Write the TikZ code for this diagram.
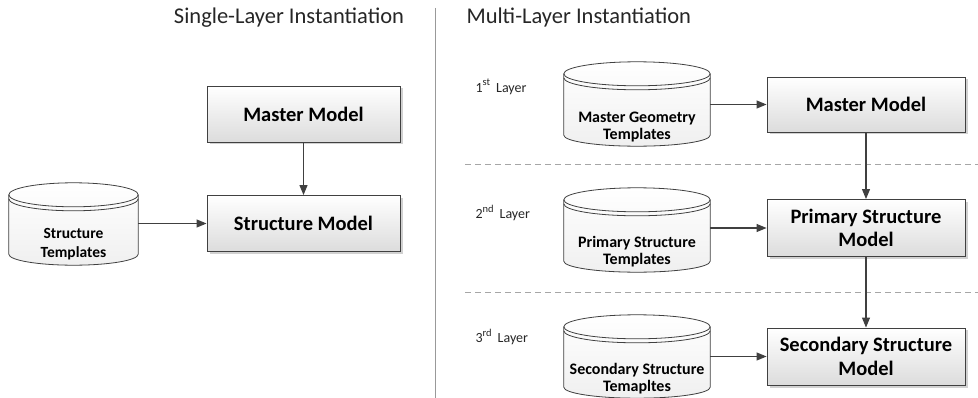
\documentclass[tikz,border=0pt]{standalone}
\usepackage{fontspec}
\setmainfont{Carlito}
\usetikzlibrary{arrows.meta,shadows,backgrounds,calc}

\definecolor{edge}{HTML}{404040}
\definecolor{boxbot}{HTML}{DCDCDC}

\tikzset{
  model/.style={draw=edge, line width=0.9pt, top color=white, bottom color=boxbot,
    minimum width=198pt, minimum height=56pt, align=center, inner sep=0pt,
    font=\bfseries\fontsize{20.5}{23.5}\selectfont,
    drop shadow={shadow xshift=2.5pt, shadow yshift=-2.5pt, opacity=0.18, fill=black}},
  store/.style={minimum width=146pt, minimum height=84pt, inner sep=0pt,
    font=\bfseries\fontsize{16}{17}\selectfont},
  flow/.style={draw=edge, line width=1.1pt, -{Triangle[length=10pt,width=8pt]}},
  layerline/.style={draw=gray!70, line width=0.9pt, dash pattern=on 6pt off 4pt},
  heading/.style={font=\fontsize{22.5}{26}\selectfont, text=black!85},
  layertag/.style={font=\fontsize{14}{16}\selectfont, anchor=west, text=black!85},
}

% two-line label sitting in the body of a cylinder, below its lid
\newcommand{\drumtext}[3]{\raisebox{#1}[0pt][0pt]{\begin{tabular}{@{}c@{}}#2\\#3\end{tabular}}}
% ordinal layer tag
\newcommand{\layerno}[2]{#1\raisebox{6.5pt}{\fontsize{10.5}{12}\selectfont #2}\hspace{6pt}Layer}

% cylinder outline drawn behind a store node
\newcommand{\drum}[1]{%
  \path[draw=edge, line width=0.8pt, top color=white, bottom color=gray!12]
    let \p1=(#1.north west), \p2=(#1.south east), \n1={(\x2-\x1)/2} in
    (\x1,\y1-12pt) -- (\x1,\y2+11pt)
    arc[start angle=180, end angle=360, x radius=\n1, y radius=11pt]
    -- (\x2,\y1-12pt)
    arc[start angle=0, end angle=180, x radius=\n1, y radius=12pt] -- cycle;
  \draw[edge, line width=0.8pt]
    let \p1=(#1.north west), \p2=(#1.south east), \n1={(\x2-\x1)/2} in
    (\x1,\y1-12pt) arc[start angle=180, end angle=360, x radius=\n1, y radius=12pt]
    (\x1,\y1-16pt) arc[start angle=180, end angle=360, x radius=\n1, y radius=12pt];
}

\begin{document}
\begin{tikzpicture}[x=1pt,y=-1pt]
\useasboundingbox (0,0) rectangle (978,398);

% headings and divider
\node[heading] (h1) at (289,18) {Single-Layer Instantiation};
\node[heading, anchor=west] (h2) at (463,18) {Multi-Layer Instantiation};
\coordinate (dtop) at (435.5,8);
\coordinate (dbot) at (435.5,398);
\draw[gray!80, line width=0.8pt] (dtop) -- (dbot);

% single layer
\node[model, minimum width=193pt] (mm1) at (303.5,114) {Master Model};
\node[model, minimum width=193pt] (sm1) at (303.5,223.5) {Structure Model};
\node[store, minimum width=129pt, minimum height=82pt,
      font=\bfseries\fontsize{15.5}{19}\selectfont] (st1) at (73.5,224)
  {\drumtext{-24pt}{Structure}{Templates}};

% multi layer
\node[layertag] (l1) at (472,87) {\layerno{1}{st}};
\node[layertag] (l2) at (472,213) {\layerno{2}{nd}};
\node[layertag] (l3) at (472,337) {\layerno{3}{rd}};

\coordinate (d1a) at (465,164);
\coordinate (d1b) at (978,164);
\coordinate (d2a) at (465,292);
\coordinate (d2b) at (978,292);
\draw[layerline] (d1a) -- (d1b);
\draw[layerline] (d2a) -- (d2b);

\node[model, minimum height=55pt] (mm2) at (866,104.5) {Master Model};
\node[model, minimum height=57pt] (psm) at (866,228) {Primary Structure\\Model};
\node[model, minimum height=57pt] (ssm) at (866,356.5) {Secondary Structure\\Model};

\node[store] (mgt) at (637,104) {\drumtext{-28pt}{Master Geometry}{Templates}};
\node[store] (pst) at (637,230) {\drumtext{-27pt}{Primary Structure}{Templates}};
\node[store, minimum height=83pt] (sst) at (637,356.5) {\drumtext{-27pt}{Secondary Structure}{Temapltes}};

\begin{scope}[on background layer]
  \drum{st1}
  \drum{mgt}
  \drum{pst}
  \drum{sst}
\end{scope}

% connectors
\draw[flow] (mm1) -- (sm1);
\draw[flow] (st1.east |- sm1) -- (sm1);
\draw[flow] (mgt.east |- mm2) -- (mm2);
\draw[flow] (pst.east |- psm) -- (psm);
\draw[flow] (sst.east |- ssm) -- (ssm);
\draw[flow] (mm2) -- (psm);
\draw[flow] (psm) -- (ssm);
\end{tikzpicture}
\end{document}
